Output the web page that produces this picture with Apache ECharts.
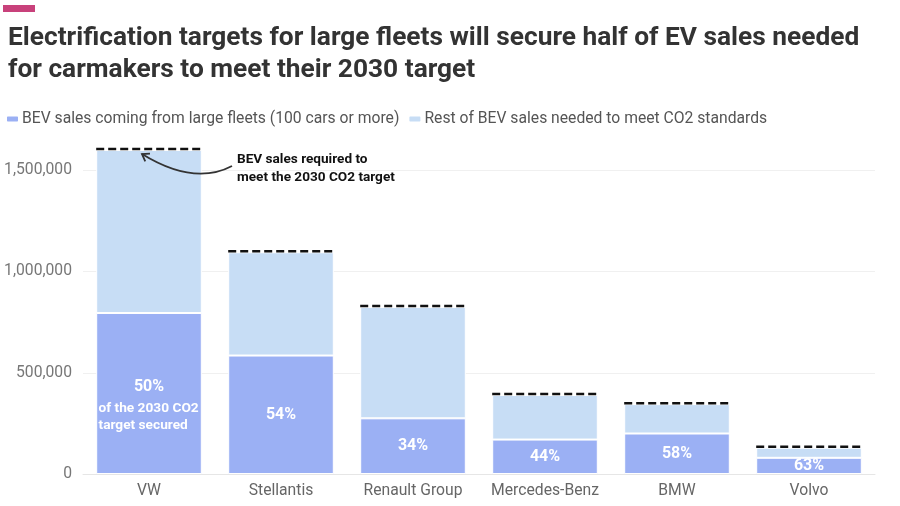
<!DOCTYPE html>
<html>
<head>
<meta charset="utf-8">
<script src="https://cdn.jsdelivr.net/npm/echarts@6/dist/echarts.min.js"></script>
<style>
  html, body { margin: 0; padding: 0; background: #fff; }
  #chart { width: 900px; height: 506px; }
</style>
</head>
<body>
<div id="chart"></div>
<script>
// data
var makers = ['VW', 'Stellantis', 'Renault Group', 'Mercedes-Benz', 'BMW', 'Volvo'];
var fleetSales = [795000, 585000, 275000, 170000, 200000, 80000];
var targetSales = [1600000, 1095000, 825000, 390000, 345000, 130000];
var shareLabels = ['50%', '54%', '34%', '44%', '58%', '63%'];
var yTicks = [0, 500000, 1000000, 1500000];

var restSales = [];
for (var i = 0; i < makers.length; i++) {
  restSales.push(targetSales[i] - fleetSales[i]);
}

var chartDom = document.getElementById('chart');
var myChart = echarts.init(chartDom);
var option;

option = {
  animation: false,
  textStyle: { fontFamily: 'Roboto' },
  title: {
    text: 'Electrification targets for large fleets will secure half of EV sales needed\nfor carmakers to meet their 2030 target',
    left: 3,
    top: 17,
    textStyle: {
      fontFamily: 'Roboto',
      fontWeight: 'bold',
      fontSize: 26.3,
      lineHeight: 32,
      color: '#333'
    }
  },
  legend: {
    left: 0,
    top: 106,
    icon: 'roundRect',
    itemWidth: 13,
    itemHeight: 7,
    itemGap: 8,
    textStyle: { color: '#555', fontSize: 15.7, padding: [0, 0, 0, -2] },
    data: ['BEV sales coming from large fleets (100 cars or more)', 'Rest of BEV sales needed to meet CO2 standards']
  },
  grid: { left: 83, right: 25, top: 150, bottom: 32, containLabel: false },
  xAxis: {
    type: 'category',
    data: makers,
    axisLine: { lineStyle: { color: '#e6e6e6' } },
    axisTick: { alignWithLabel: true, length: 5, lineStyle: { color: '#e6e6e6' } },
    axisLabel: { color: '#666', fontSize: 15.7, margin: 9, interval: 0 }
  },
  yAxis: {
    type: 'value',
    min: 0,
    max: 1600000,
    interval: 500000,
    axisLine: { show: false },
    axisTick: { show: false },
    axisLabel: {
      color: '#777', fontSize: 15.7, margin: 11, showMaxLabel: false,
      formatter: function (v) { return yTicks.indexOf(v) >= 0 ? v.toLocaleString('en-US') : ''; }
    },
    splitLine: { showMaxLine: false, lineStyle: { color: '#f0f0f0' } }
  },
  series: [
    {
      name: 'BEV sales coming from large fleets (100 cars or more)',
      type: 'bar',
      stack: 'bev',
      barCategoryGap: '20%',
      data: fleetSales.map(function (v, i) {
        return i === 0 ? { value: v, label: { offset: [0, 10] } } : v;
      }),
      itemStyle: { color: '#9bb0f4', borderColor: '#fff', borderWidth: 1 },
      label: {
        show: true,
        position: 'inside',
        color: '#fff',
        fontWeight: 'bold',
        fontSize: 16,
        formatter: function (p) {
          if (p.dataIndex === 0) {
            return '{big|' + shareLabels[0] + '}\n{small|of the 2030 CO2}\n{small|target secured}';
          }
          return shareLabels[p.dataIndex];
        },
        rich: {
          big: { color: '#fff', fontWeight: 'bold', fontSize: 16, lineHeight: 28, align: 'center', width: 101 },
          small: { color: '#fff', fontWeight: 'bold', fontSize: 13.7, lineHeight: 17, align: 'left', width: 101 }
        }
      }
    },
    {
      name: 'Rest of BEV sales needed to meet CO2 standards',
      type: 'bar',
      stack: 'bev',
      data: restSales,
      itemStyle: { color: '#c7ddf5', borderColor: '#fff', borderWidth: 1 }
    },
    {
      name: 'target',
      type: 'custom',
      data: targetSales.map(function (v, i) { return [i, v]; }),
      z: 10,
      renderItem: function (params, api) {
        var pt = api.coord([api.value(0), api.value(1)]);
        var w = api.size([1, 0])[0] * 0.8;
        return {
          type: 'line',
          shape: { x1: pt[0] - w / 2, y1: pt[1] - 1, x2: pt[0] + w / 2, y2: pt[1] - 1 },
          style: { stroke: '#111', lineWidth: 2.5, lineDash: [8, 4] }
        };
      }
    }
  ]
};

if (option && typeof option === 'object') {
  myChart.setOption(option);
}

// annotation for the VW target line
var p = myChart.convertToPixel({ gridIndex: 0 }, [0, targetSales[0]]);
var ax = p[0], ay = p[1];
var ex = ax - 7, ey = ay + 4;
var cx = ax + 45, cy = ay + 36;
var dx = ex - cx, dy = ey - cy;
var len = Math.sqrt(dx * dx + dy * dy);
dx = dx / len; dy = dy / len;
var head = 8, ang = 0.6;
function rot(x, y, a) { return [x * Math.cos(a) - y * Math.sin(a), x * Math.sin(a) + y * Math.cos(a)]; }
var h1 = rot(-dx, -dy, ang), h2 = rot(-dx, -dy, -ang);

myChart.setOption({
  graphic: [
    {
      type: 'rect',
      left: 3, top: 5,
      shape: { width: 32, height: 7 },
      style: { fill: '#c8417b' }
    },
    {
      type: 'text',
      x: ax + 88, y: ay + 1, z: 100,
      style: {
        text: 'BEV sales required to\nmeet the 2030 CO2 target',
        font: 'bold 13.6px Roboto',
        lineHeight: 18,
        fill: '#111'
      }
    },
    {
      type: 'bezierCurve', z: 100,
      shape: { x1: ax + 83, y1: ay + 16, cpx1: cx, cpy1: cy, x2: ex, y2: ey },
      style: { stroke: '#333', lineWidth: 1.8, fill: null }
    },
    {
      type: 'polyline', z: 100,
      shape: { points: [[ex + h1[0] * head, ey + h1[1] * head], [ex, ey], [ex + h2[0] * head, ey + h2[1] * head]] },
      style: { stroke: '#333', lineWidth: 1.8, fill: null }
    }
  ]
});
window.addEventListener('resize', myChart.resize);
</script>
</body>
</html>
